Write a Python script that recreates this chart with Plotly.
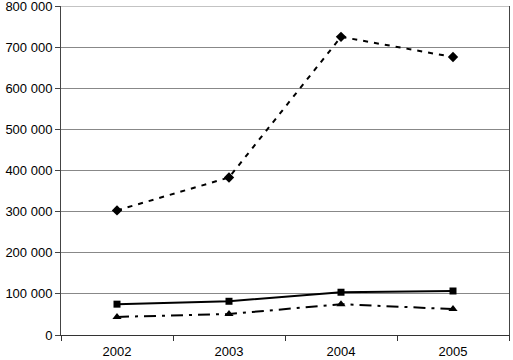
import plotly.graph_objects as go

years = ["2002", "2003", "2004", "2005"]
series_diamond = [303000, 383000, 725000, 676000]
series_square = [75000, 82000, 104000, 107000]
series_triangle = [44000, 51000, 75000, 63000]
y_ticks = [0, 100000, 200000, 300000, 400000, 500000, 600000, 700000, 800000]

fig = go.Figure()
fig.add_trace(go.Scatter(x=years, y=series_diamond, mode="lines+markers",
                         line=dict(color="black", width=2, dash="5px,6px"),
                         marker=dict(symbol="diamond", size=8, color="black")))
fig.add_trace(go.Scatter(x=years, y=series_square, mode="lines+markers",
                         line=dict(color="black", width=2),
                         marker=dict(symbol="square", size=7, color="black")))
fig.add_trace(go.Scatter(x=years, y=series_triangle, mode="lines+markers",
                         line=dict(color="black", width=2, dash="12px,6px,3px,6px"),
                         marker=dict(symbol="triangle-up", size=8, color="black")))

fig.update_layout(
    width=513, height=360,
    margin=dict(l=61, r=4, t=6, b=25, autoexpand=False),
    paper_bgcolor="white", plot_bgcolor="white",
    showlegend=False,
    separators=". ",
    font=dict(family="Liberation Sans, Arial, sans-serif", size=13, color="black"),
    shapes=[dict(type="line", xref="paper", x0=0, x1=1, yref="y",
                 y0=y_ticks[-1], y1=y_ticks[-1], line=dict(color="#888888", width=1),
                 layer="below")],
)
fig.update_xaxes(type="category", tickson="boundaries", ticks="outside", ticklen=5,
                 tickcolor="#333333", showline=True, linecolor="#333333", linewidth=1,
                 showgrid=False, range=[-0.5, 3.5], automargin=False,
                 ticklabelstandoff=4)
fig.update_yaxes(range=[0, 800000], tickvals=y_ticks, tickformat=",d",
                 ticks="outside", ticklen=5, tickcolor="#444444",
                 showline=True, linecolor="#444444", linewidth=1, mirror=True,
                 showgrid=True, gridcolor="#888888", gridwidth=1, zeroline=False,
                 automargin=False, ticklabeloverflow="allow")

fig.write_html("out.html", config={"displayModeBar": False},
               post_script="document.body.style.margin='0';document.body.style.overflow='hidden';")
